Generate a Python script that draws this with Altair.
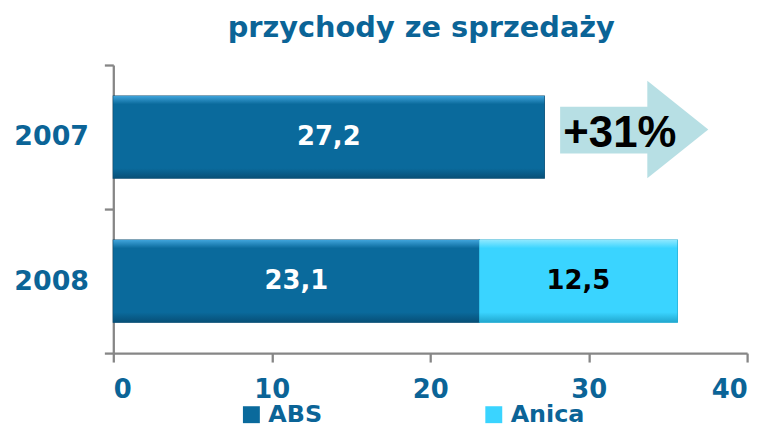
import altair as alt
import pandas as pd

title_text = "przychody ze sprzedaży"
years = ["2007", "2008"]
series = ["ABS", "Anica"]
abs_values = [27.2, 23.1]
anica_values = [0.0, 12.5]
growth_label = "+31%"
x_ticks = [0, 10, 20, 30, 40]

series_colors = ["#0A6A9C", "#3AD4FF"]
series_stroke = ["#074a70", "#1FA9CF"]
label_colors = ["white", "black"]

AXIS_BLUE = "#0B6497"
GRID_GRAY = "#868686"
BAR_BAND = 0.57

rows = []
for i, yr in enumerate(years):
    start = 0.0
    for k, (s, vals) in enumerate(zip(series, [abs_values, anica_values])):
        v = vals[i]
        if v > 0:
            rows.append(dict(year=yr, series=s, start=start, end=start + v,
                             mid=start + v / 2,
                             label=f"{v:.1f}".replace(".", ","),
                             tcolor=label_colors[k], scolor=series_stroke[k]))
            start += v
df = pd.DataFrame(rows)

# arrow annotation shape (x in data units, vertical in 0..2 units of the plot)
arrow_body = pd.DataFrame({"x": [28.2], "x2": [33.75], "top": [0.29], "bottom": [0.614]})
arrow_head = pd.DataFrame({"x": [33.7, 37.55], "top": [0.11, 0.448], "bottom": [0.786, 0.448]})
arrow_text = pd.DataFrame({"x": [28.4], "y": [0.48], "t": [growth_label]})

yscale = alt.Scale(domain=years, paddingInner=0, paddingOuter=0)
xscale = alt.Scale(domain=[0, 40], nice=False, zero=True)

bars = alt.Chart(df).mark_bar(strokeWidth=1.2, height={"band": BAR_BAND}).encode(
    y=alt.Y("year:N", scale=yscale, title=None,
            axis=alt.Axis(labelFont="DejaVu Sans", labelFontWeight="bold",
                          labelFontSize=27, labelColor=AXIS_BLUE,
                          labelPadding=16, tickBand="extent")),
    x=alt.X("start:Q", scale=xscale, title=None,
            axis=alt.Axis(values=x_ticks, labelFont="DejaVu Sans",
                          labelFontWeight="bold", labelFontSize=26,
                          labelColor=AXIS_BLUE, labelPadding=15, grid=False)),
    x2="end:Q",
    color=alt.Color("series:N", scale=alt.Scale(domain=series, range=series_colors),
                    legend=alt.Legend(orient="none", legendX=127, legendY=340,
                                      direction="horizontal", title=None,
                                      symbolType="square", symbolSize=290,
                                      symbolStrokeWidth=0,
                                      labelFont="DejaVu Sans", labelFontWeight="bold",
                                      labelFontSize=24, labelColor=AXIS_BLUE,
                                      labelOffset=5, columnPadding=160)),
    stroke=alt.Stroke("scolor:N", scale=None),
)


def gradient(light, main, dark):
    return alt.LinearGradient(
        gradient="linear", x1=0, y1=0, x2=0, y2=1,
        stops=[alt.GradientStop(offset=0, color=light),
               alt.GradientStop(offset=0.1, color=main),
               alt.GradientStop(offset=0.88, color=main),
               alt.GradientStop(offset=1, color=dark)])


shade_layers = []
for s, grad in zip(series, [gradient("#3FA3DA", "#0A6A9C", "#075078"),
                            gradient("#8CE8FF", "#3AD4FF", "#22A8D0")]):
    shade_layers.append(
        alt.Chart(df).transform_filter(alt.datum.series == s).mark_bar(
            height={"band": BAR_BAND}, color=grad).encode(
            y=alt.Y("year:N", scale=yscale),
            x=alt.X("start:Q", scale=xscale),
            x2="end:Q",
        )
    )

labels = alt.Chart(df).mark_text(font="DejaVu Sans", fontWeight="bold",
                                 fontSize=26, baseline="middle").encode(
    y=alt.Y("year:N", scale=yscale, title=None),
    x=alt.X("mid:Q", scale=xscale),
    text="label:N",
    color=alt.Color("tcolor:N", scale=None),
)

ay = alt.Scale(domain=[0, 2], reverse=True, nice=False, zero=False)
ARROW_COLOR = "#B7DFE4"
body = alt.Chart(arrow_body).mark_rect(color=ARROW_COLOR).encode(
    x=alt.X("x:Q", scale=xscale), x2="x2:Q",
    y=alt.Y("top:Q", scale=ay, axis=None), y2="bottom:Q",
)
head = alt.Chart(arrow_head).mark_area(color=ARROW_COLOR, orient="vertical").encode(
    x=alt.X("x:Q", scale=xscale),
    y=alt.Y("top:Q", scale=ay, axis=None),
    y2="bottom:Q",
)
arrow_lbl = alt.Chart(arrow_text).mark_text(align="left", baseline="middle",
                                            font="Liberation Sans", fontWeight="bold",
                                            fontSize=44, color="black").encode(
    x=alt.X("x:Q", scale=xscale),
    y=alt.Y("y:Q", scale=ay, axis=None),
    text="t:N",
)

chart = alt.layer(
    alt.layer(bars, *shade_layers, labels),
    alt.layer(body, head, arrow_lbl),
).resolve_scale(y="independent").properties(
    width=638, height=290,
    title=alt.TitleParams(title_text, font="DejaVu Sans", fontWeight="bold",
                          fontSize=29, color=AXIS_BLUE, anchor="middle",
                          dx=-9, offset=8),
    autosize=alt.AutoSizeParams(type="none"),
    padding={"left": 106, "top": 56, "right": 16, "bottom": 74},
).configure_view(stroke=None).configure_axis(
    domainColor=GRID_GRAY, domainWidth=2.3, tickColor=GRID_GRAY, tickWidth=2.3,
    tickSize=9,
)

chart.save("out.html", embed_options={"renderer": "svg", "actions": False})
